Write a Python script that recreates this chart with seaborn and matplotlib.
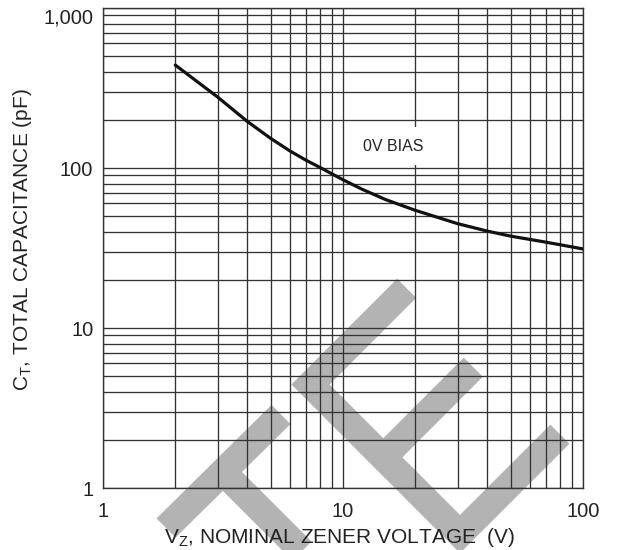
import matplotlib
matplotlib.use("Agg")
import matplotlib.pyplot as plt
import seaborn as sns
import pandas as pd
from matplotlib.lines import Line2D
from matplotlib.ticker import FixedLocator, FixedFormatter, NullFormatter, LogLocator

# ---- data ----
vz = [2, 3, 4, 5, 6, 7, 8, 10, 12, 15, 20, 30, 40, 50, 70, 100]
ct = [440, 278, 195, 153, 128, 112, 101, 84.4, 73.7, 63.6, 54.4, 44.9, 40.3, 37.5, 34.4, 31.2]
x_ticks = [1, 10, 100]
x_tick_labels = ["1", "10", "100"]
y_ticks = [1, 10, 100, 1000]
y_tick_labels = ["1", "10", "100", "1,000"]
curve_label = "0V BIAS"
x_label = "V$_{\\mathregular{Z}}$, NOMINAL ZENER VOLTAGE  (V)"
y_label = "C$_{\\mathregular{T}}$, TOTAL CAPACITANCE (pF)"

sns.set_theme(style="white")
plt.rcParams["font.family"] = ["Liberation Sans", "DejaVu Sans"]
plt.rcParams["mathtext.fontset"] = "custom"
plt.rcParams["mathtext.rm"] = "Liberation Sans"

W, H = 618, 550
fig = plt.figure(figsize=(W / 100, H / 100), dpi=100)
fig.patch.set_facecolor("white")
ax = fig.add_axes([103 / W, 1 - 488 / H, 480 / W, 480 / H])
ax.set_facecolor("none")

# ---- background watermark (decoration, figure pixel coords) ----
wm_color = "#b3b3b3"
wm_lw = 27 * 0.72
def wm(points):
    xs = [p[0] / W for p in points]
    ys = [1 - p[1] / H for p in points]
    fig.add_artist(Line2D(xs, ys, transform=fig.transFigure, color=wm_color,
                          lw=wm_lw, solid_capstyle="butt", solid_joinstyle="miter",
                          zorder=-1))
wm([(166, 528), (281, 414.5)])
wm([(223.25, 472.25), (345, 594)])
wm([(100, 590), (135, 555)])
wm([(406.7, 288.3), (310.5, 384.5), (460, 534), (559.9, 434.2)])
wm([(473.3, 367.2), (383.3, 457.3)])

# ---- chart ----
ax.set_xscale("log")
ax.set_yscale("log")
df = pd.DataFrame({"vz": vz, "ct": ct})
sns.lineplot(data=df, x="vz", y="ct", ax=ax, color="#111111", lw=2.3, zorder=5)

ax.set_xlim(1, 100)
ax.set_ylim(1, 1000)

ax.xaxis.set_major_locator(FixedLocator(x_ticks))
ax.xaxis.set_major_formatter(FixedFormatter(x_tick_labels))
ax.yaxis.set_major_locator(FixedLocator(y_ticks))
ax.yaxis.set_major_formatter(FixedFormatter(y_tick_labels))
ax.xaxis.set_minor_locator(LogLocator(base=10, subs=range(2, 10)))
ax.yaxis.set_minor_locator(LogLocator(base=10, subs=range(2, 10)))
ax.xaxis.set_minor_formatter(NullFormatter())
ax.yaxis.set_minor_formatter(NullFormatter())

grid_color = "#333333"
ax.grid(True, which="both", color=grid_color, lw=0.95)
for s in ax.spines.values():
    s.set_color(grid_color)
    s.set_linewidth(1.0)
    s.set_visible(True)

text_color = "#222222"
ax.tick_params(axis="both", which="both", length=0, labelsize=14.5, colors=text_color)
ax.tick_params(axis="x", pad=10)
ax.tick_params(axis="y", pad=7)
ax.set_xlabel("")
ax.set_ylabel("")

# top y tick label sits just below the top edge
fig.canvas.draw()
for lab in ax.get_yticklabels():
    if lab.get_text() == y_tick_labels[-1]:
        lab.set_verticalalignment("top")
        lab.set_y(1000)

fig.text(340 / W, 1 - 543 / H, x_label, fontsize=15, color=text_color,
         ha="center", va="baseline")
fig.text(23 / W, 1 - 239.5 / H, y_label, fontsize=15, color=text_color,
         ha="center", va="center", rotation=90)

ax.text(16.2, 137, curve_label, fontsize=11.5, color=text_color, ha="center", va="center",
        bbox=dict(facecolor="white", edgecolor="none", pad=8), zorder=6)

fig.savefig("out.png", dpi=100)
